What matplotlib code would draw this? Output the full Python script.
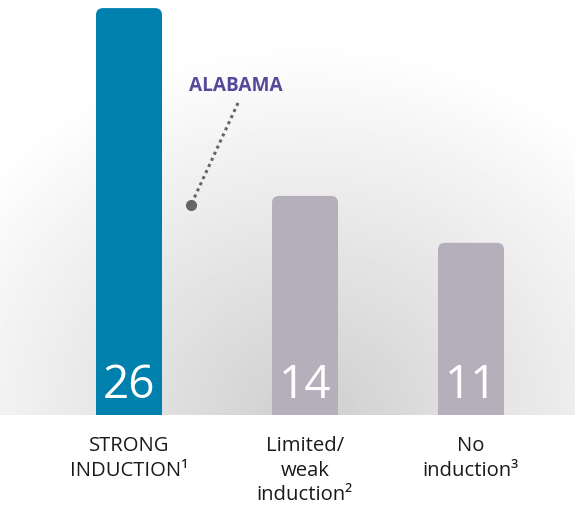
import numpy as np
import matplotlib.pyplot as plt
from matplotlib.patches import FancyBboxPatch

categories = ["STRONG\nINDUCTION\u00b9", "Limited/\nweak\ninduction\u00b2", "No\ninduction\u00b3"]
values = [26, 14, 11]
colors = ["#0080AD", "#B5AFBB", "#B5AFBB"]

plt.rcParams['font.family'] = ['Open Sans', 'DejaVu Sans']

W, H = 575, 513
base_px = 415          # baseline of the bars, in pixels from top
px_per_unit = 15.65    # vertical scale
step = 176.0           # pixel distance between first two bars
x0_px = 129.0

xpos = [0, 1, 1.943]
bar_w = 66 / step

fig = plt.figure(figsize=(W / 100, H / 100), dpi=100)
ax = fig.add_axes([0, (H - base_px) / H, 1, base_px / H])
xmin, xmax = -x0_px / step, (W - x0_px) / step
ymax = base_px / px_per_unit
ax.set_xlim(xmin, xmax)
ax.set_ylim(0, ymax)
ax.axis('off')

# soft grey radial haze behind the bars
gx, gy = np.meshgrid(np.linspace(0, W, 300), np.linspace(0, base_px, 220))
r = np.sqrt(((gx - 310) / 420) ** 2 + ((gy - 420) / 380) ** 2)
shade = np.clip(0.81 + 0.19 * r, 0, 1)
ax.imshow(shade, cmap='gray', vmin=0, vmax=1, extent=[xmin, xmax, 0, ymax],
          origin='upper', aspect='auto', zorder=0, interpolation='bilinear')

# bars with rounded tops
rx = 7 / step
ry = 7 / px_per_unit
for x, v, c in zip(xpos, values, colors):
    p = FancyBboxPatch((x - bar_w / 2, -2), bar_w, v + 2,
                       boxstyle=f"round,pad=0,rounding_size={rx}",
                       mutation_aspect=ry / rx, fc=c, ec='none', zorder=2)
    ax.add_patch(p)
    ax.text(x, 17 / px_per_unit, str(v), ha='center', va='baseline',
            color='white', fontsize=33, fontweight='normal', zorder=3)

for x, lab in zip(xpos, categories):
    fig.text((x0_px + x * step) / W, 1 - 436 / H, lab, ha='center', va='top',
             fontsize=14.6, color='#1a1a1a', linespacing=1.3)

# callout
def to_data(px, py):
    return (px - x0_px) / step, (base_px - py) / px_per_unit

lx0, ly0 = to_data(238, 103)
lx1, ly1 = to_data(191, 205)
ax.plot([lx0, lx1], [ly0, ly1], color='#666666', lw=2.2, ls=(0, (1, 1.2)),
        zorder=4, solid_capstyle='butt')
ax.plot([lx1], [ly1], 'o', color='#666666', ms=7, zorder=4)
tx, ty = to_data(236, 86)
ax.text(tx, ty, "ALABAMA", ha='center', va='center', color='#57489A',
        fontsize=13.7, fontweight='bold', zorder=4)

fig.savefig('out.png', dpi=100, facecolor='white')
